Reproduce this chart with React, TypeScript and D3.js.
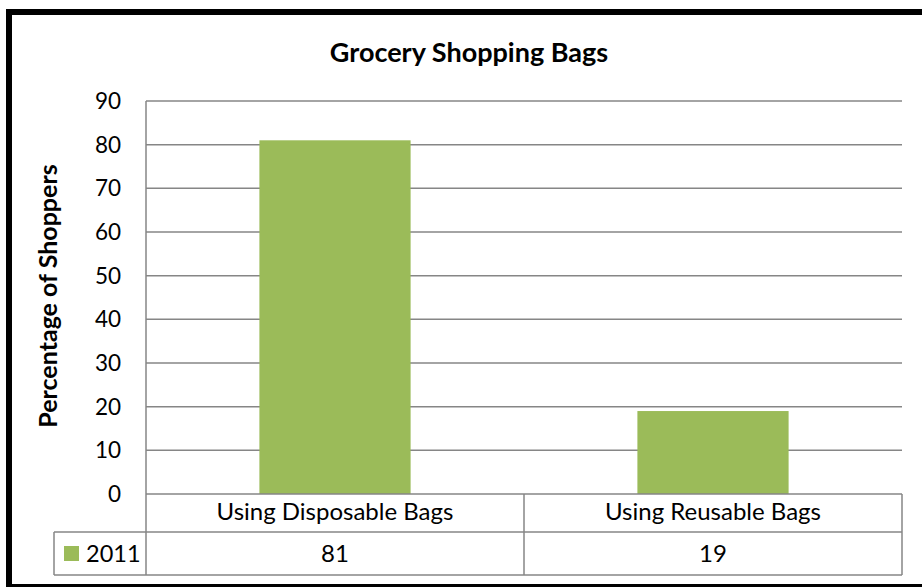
import React from "react";
import * as d3 from "d3";

const title = "Grocery Shopping Bags";
const yAxisTitle = "Percentage of Shoppers";
const categories = ["Using Disposable Bags", "Using Reusable Bags"];
const seriesName = "2011";
const values2011 = [81, 19];
const yMax = 90;
const yStep = 10;

const W = 922;
const H = 587;
const FONT = "Lato, 'Open Sans', sans-serif";
const GREEN = "#9BBB59";
const GRID = "#868686";

export default function App() {
  const left = 146;
  const right = 902;
  const top = 101;
  const bottom = 494;
  const row1 = 532;
  const row2 = 575;
  const tableLeft = 54;

  const y = d3.scaleLinear().domain([0, yMax]).range([bottom, top]);
  const x = d3
    .scaleBand<string>()
    .domain(categories)
    .range([left, right])
    .paddingInner(0.6)
    .paddingOuter(0.3);
  const cols = d3.scaleBand<string>().domain(categories).range([left, right]);
  const ticks = y.ticks(yMax / yStep);

  return (
    <svg
      width={W}
      height={H}
      style={{ position: "absolute", left: 0, top: 0, display: "block", background: "#fff" }}
      fontFamily={FONT}
    >
      <rect x={0} y={0} width={W} height={H} fill="#fff" />
      {ticks
        .filter((t) => t !== 0)
        .map((t) => (
          <line key={"g" + t} x1={left} x2={right} y1={y(t)} y2={y(t)} stroke={GRID} strokeWidth={1.5} />
        ))}
      {categories.map((c, i) => (
        <rect key={c} x={x(c)} y={y(values2011[i])} width={x.bandwidth()} height={bottom - y(values2011[i])} fill={GREEN} />
      ))}
      {ticks.map((t) => (
        <text key={"t" + t} x={121} y={y(t)} dy="0.36em" textAnchor="end" fontSize={22.5} fill="#000">
          {t}
        </text>
      ))}
      <g stroke={GRID} strokeWidth={1.5} fill="none">
        <line x1={left} x2={left} y1={top} y2={row2} />
        <line x1={left} x2={right} y1={bottom} y2={bottom} />
        <line x1={tableLeft} x2={right} y1={row1} y2={row1} />
        <line x1={tableLeft} x2={right} y1={row2} y2={row2} />
        <line x1={tableLeft} x2={tableLeft} y1={row1} y2={row2} />
        {categories.map((c) => (
          <line key={"v" + c} x1={(cols(c) as number) + cols.bandwidth()} x2={(cols(c) as number) + cols.bandwidth()} y1={bottom} y2={row2} />
        ))}
      </g>
      {categories.map((c) => (
        <text key={"c" + c} x={(cols(c) as number) + cols.bandwidth() / 2} y={520} textAnchor="middle" fontSize={24} fill="#000">
          {c}
        </text>
      ))}
      {categories.map((c, i) => (
        <text key={"val" + c} x={(cols(c) as number) + cols.bandwidth() / 2} y={562} textAnchor="middle" fontSize={24} fill="#000">
          {values2011[i]}
        </text>
      ))}
      <rect x={64} y={546} width={15} height={15} fill={GREEN} />
      <text x={86} y={562} fontSize={23.5} fill="#000">
        {seriesName}
      </text>
      <text x={469} y={62} textAnchor="middle" fontSize={27} fontWeight="bold" fill="#000">
        {title}
      </text>
      <text
        transform={`translate(57, 296) rotate(-90)`}
        textAnchor="middle"
        fontSize={25}
        fontWeight="bold"
        fill="#000"
      >
        {yAxisTitle}
      </text>
      <rect x={9} y={12} width={940} height={575} fill="none" stroke="#000" strokeWidth={6} />
    </svg>
  );
}
